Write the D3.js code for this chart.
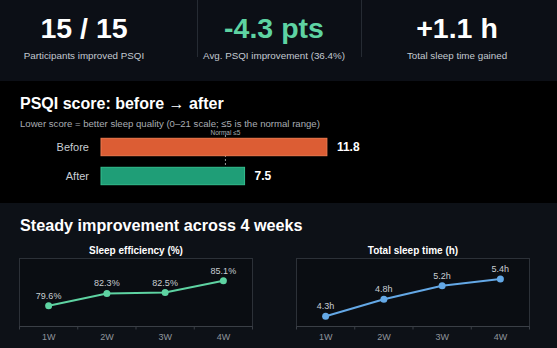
<!DOCTYPE html>
<html>
<head>
<meta charset="utf-8">
<script src="https://cdn.jsdelivr.net/npm/d3@7"></script>
<style>
	html, body { margin: 0; padding: 0; background: #0d1117; }
	svg { display: block; font-family: "Liberation Sans", Arial, sans-serif; }
</style>
</head>
<body>
<div id="chart"></div>
<script>
"use strict";

// KPI strip
const kpiValues = ["15 / 15", "-4.3 pts", "+1.1 h"];
const kpiLabels = ["Participants improved PSQI", "Avg. PSQI improvement (36.4%)", "Total sleep time gained"];

// PSQI before / after
const psqiGroups = ["Before", "After"];
const psqiScores = [11.8, 7.5];
const psqiMax = 21;
const normalMark = 6.5;
const normalText = "Normal \u22645";

// weekly trend
const weeks = ["1W", "2W", "3W", "4W"];
const sleepEfficiency = [79.6, 82.3, 82.5, 85.1];
const totalSleep = [4.3, 4.8, 5.2, 5.4];

const W = 557, H = 348;

const svg = d3.select("#chart").append("svg")
	.attr("width", W)
	.attr("height", H);

// panel backgrounds
svg.append("rect").attr("x", 0).attr("y", 0).attr("width", W).attr("height", 81).attr("fill", "#0c0f16");
svg.append("rect").attr("x", 0).attr("y", 81).attr("width", W).attr("height", 122).attr("fill", "#000000");
svg.append("rect").attr("x", 0).attr("y", 203).attr("width", W).attr("height", H - 203).attr("fill", "#0d1117");

/* ---- KPI strip ---- */
const kpiX = [84, 274, 457];
const kpiColors = ["#ffffff", "#5ed3a2", "#ffffff"];

[197.5, 361.5].forEach((x) => {
	svg.append("line")
		.attr("x1", x).attr("x2", x)
		.attr("y1", 0).attr("y2", 57)
		.attr("stroke", "#262b33");
});

const kpi = svg.selectAll("g.kpi")
	.data(kpiValues)
	.enter()
	.append("g")
	.attr("class", "kpi");

kpi.append("text")
	.text((d) => d)
	.attr("x", (d, i) => kpiX[i])
	.attr("y", 37.5)
	.attr("text-anchor", "middle")
	.attr("font-size", 28.5)
	.attr("font-weight", "bold")
	.attr("fill", (d, i) => kpiColors[i]);

kpi.append("text")
	.text((d, i) => kpiLabels[i])
	.attr("x", (d, i) => kpiX[i])
	.attr("y", 58.5)
	.attr("text-anchor", "middle")
	.attr("font-size", 9.8)
	.attr("fill", "#c3c9d1");

/* ---- PSQI bars ---- */
svg.append("text")
	.text("PSQI score: before \u2192 after")
	.attr("x", 20).attr("y", 109)
	.attr("font-size", 16)
	.attr("font-weight", "bold")
	.attr("fill", "#ffffff");

svg.append("text")
	.text("Lower score = better sleep quality (0\u201321 scale; \u22645 is the normal range)")
	.attr("x", 20).attr("y", 127)
	.attr("font-size", 9.6)
	.attr("fill", "#a9adb3");

const bx = d3.scaleLinear().domain([0, psqiMax]).range([101, 503]);
const by = d3.scaleBand().domain(psqiGroups).range([126.7, 196.3]).padding(0.4);
const barFill = ["#dc5d34", "#1f9e77"];
const barStroke = ["#f07a4e", "#33c08f"];

// normal threshold marker, behind the bars
svg.append("line")
	.attr("x1", bx(normalMark)).attr("x2", bx(normalMark))
	.attr("y1", 135).attr("y2", 168)
	.attr("stroke", "#9a9a9a")
	.attr("stroke-dasharray", "2,2");

svg.append("text")
	.text(normalText)
	.attr("x", bx(normalMark)).attr("y", 134.5)
	.attr("text-anchor", "middle")
	.attr("font-size", 6.5)
	.attr("fill", "#a9adb3");

svg.selectAll("rect.bar")
	.data(psqiScores)
	.enter()
	.append("rect")
	.attr("class", "bar")
	.attr("x", bx(0))
	.attr("y", (d, i) => by(psqiGroups[i]))
	.attr("width", (d) => bx(d) - bx(0))
	.attr("height", by.bandwidth())
	.attr("fill", (d, i) => barFill[i])
	.attr("stroke", (d, i) => barStroke[i])
	.attr("stroke-width", 1);

svg.selectAll("text.group")
	.data(psqiGroups)
	.enter()
	.append("text")
	.attr("class", "group")
	.text((d) => d)
	.attr("x", 89)
	.attr("y", (d) => by(d) + by.bandwidth() / 2)
	.attr("dy", "0.35em")
	.attr("text-anchor", "end")
	.attr("font-size", 11)
	.attr("fill", "#c9cdd3");

svg.selectAll("text.score")
	.data(psqiScores)
	.enter()
	.append("text")
	.attr("class", "score")
	.text((d) => d.toFixed(1))
	.attr("x", (d) => bx(d) + 10)
	.attr("y", (d, i) => by(psqiGroups[i]) + by.bandwidth() / 2)
	.attr("dy", "0.35em")
	.attr("font-size", 12)
	.attr("font-weight", "bold")
	.attr("fill", "#ffffff");

/* ---- weekly trend ---- */
svg.append("text")
	.text("Steady improvement across 4 weeks")
	.attr("x", 20).attr("y", 231)
	.attr("font-size", 16.2)
	.attr("font-weight", "bold")
	.attr("fill", "#ffffff");

const trend = (left, right, title, values, domain, color, fmt) => {
	const top = 258.5, bottom = 326.5;
	const x = d3.scaleBand().domain(weeks).range([left, right]);
	const y = d3.scaleLinear().domain(domain).range([bottom, top]);
	const g = svg.append("g");

	g.append("text")
		.text(title)
		.attr("x", (left + right) / 2)
		.attr("y", 254)
		.attr("text-anchor", "middle")
		.attr("font-size", 10)
		.attr("font-weight", "bold")
		.attr("fill", "#ffffff");

	g.append("rect")
		.attr("x", left).attr("y", top)
		.attr("width", right - left)
		.attr("height", bottom - top)
		.attr("fill", "#0a0d12")
		.attr("stroke", "#2c3138");

	// axis with ticks on band edges
	const axis = g.append("g").attr("transform", "translate(0," + bottom + ")");
	axis.append("line")
		.attr("x1", left).attr("x2", right)
		.attr("stroke", "#3a3f46");
	axis.selectAll("line.tick")
		.data(weeks.concat([null]))
		.enter()
		.append("line")
		.attr("class", "tick")
		.attr("x1", (d, i) => i < weeks.length ? x(d) : right)
		.attr("x2", (d, i) => i < weeks.length ? x(d) : right)
		.attr("y1", 0).attr("y2", 3)
		.attr("stroke", "#3a3f46");
	axis.selectAll("text")
		.data(weeks)
		.enter()
		.append("text")
		.text((d) => d)
		.attr("x", (d) => x(d) + x.bandwidth() / 2)
		.attr("y", 13.5)
		.attr("text-anchor", "middle")
		.attr("font-size", 9)
		.attr("fill", "#8f959c");

	const cx = (d, i) => x(weeks[i]) + x.bandwidth() / 2;

	g.append("path")
		.datum(values)
		.attr("d", d3.line().x(cx).y((d) => y(d)))
		.attr("fill", "none")
		.attr("stroke", color)
		.attr("stroke-width", 2);

	g.selectAll("circle")
		.data(values)
		.enter()
		.append("circle")
		.attr("cx", cx)
		.attr("cy", (d) => y(d))
		.attr("r", 3.5)
		.attr("fill", color);

	g.selectAll("text.val")
		.data(values)
		.enter()
		.append("text")
		.attr("class", "val")
		.text(fmt)
		.attr("x", cx)
		.attr("y", (d) => y(d) - 7)
		.attr("text-anchor", "middle")
		.attr("font-size", 9)
		.attr("fill", "#c9cdd3");
};

trend(19.5, 252.5, "Sleep efficiency (%)", sleepEfficiency, [75, 90], "#5ed3a2", (d) => d.toFixed(1) + "%");
trend(296.5, 529.5, "Total sleep time (h)", totalSleep, [4, 6], "#64a8e6", (d) => d.toFixed(1) + "h");
</script>
</body>
</html>
